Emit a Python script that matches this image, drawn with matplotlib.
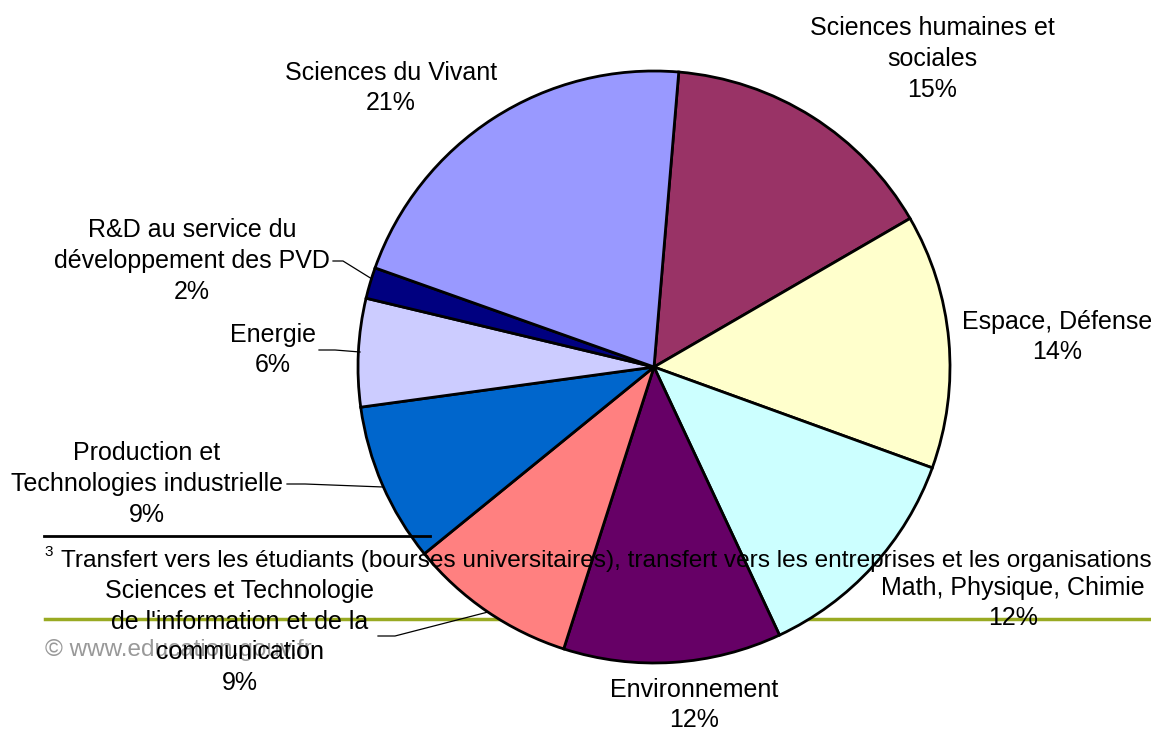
import numpy as np
import matplotlib.pyplot as plt

plt.rcParams['font.family'] = ['Liberation Sans', 'DejaVu Sans']

# shares (%), clockwise from the top
labels = ['Sciences humaines et\nsociales', 'Espace, Défense', 'Math, Physique, Chimie',
          'Environnement', 'Sciences et Technologie\nde l\'information et de la\ncommunication',
          'Production et\nTechnologies industrielle', 'Energie',
          'R&D au service du\ndéveloppement des PVD', 'Sciences du Vivant']
values = [15.3, 13.9, 12.5, 11.9, 9.2, 8.7, 5.9, 1.7, 20.9]
pct_text = ['15%', '14%', '12%', '12%', '9%', '9%', '6%', '2%', '21%']
colors = ['#993366', '#FFFFCC', '#CCFFFF', '#660066', '#FF8080',
          '#0066CC', '#CCCCFF', '#000080', '#9999FF']

# layout (pixel coords, y from top)
W, H = 1151, 729
cx, cy, r = 654, 367, 296
lab_pos = [(932, 59), (1057, 337), (1013, 603), (694, 705), (240, 637),
           (147, 484), (273, 350), (192, 261), (391, 88)]
leaders = {7: [(333, 261), (343, 261), (372, 279)],
           6: [(319, 350), (335, 350), (360, 352)],
           5: [(287, 484), (305, 484), (383, 487)],
           4: [(378, 636), (395, 636), (488, 612)]}

fig = plt.figure(figsize=(W / 100, H / 100), dpi=100)
ax = fig.add_axes([0, 0, 1, 1])

# slide decoration behind the pie
ax.plot([45, W], [H - 619, H - 619], color='#99AA22', lw=2.5, zorder=0)
ax.text(45, H - 650, '© www.education.gouv.fr', color='#999999', fontsize=17.5,
        ha='left', va='center', zorder=0)

ax.pie(values, colors=colors, startangle=85.2, counterclock=False,
       center=(cx, H - cy), radius=r,
       wedgeprops=dict(edgecolor='black', linewidth=2), frame=True)

for i, (lab, p) in enumerate(zip(labels, pct_text)):
    x, y = lab_pos[i]
    ax.text(x, H - y, lab + '\n' + p, ha='center', va='center', fontsize=18,
            linespacing=1.36, zorder=5)

for i, pts in leaders.items():
    xs = [p[0] for p in pts]
    ys = [H - p[1] for p in pts]
    ax.plot(xs, ys, color='black', lw=0.9, zorder=4)

# footnote overlay from the slide
ax.plot([44, 430], [H - 536, H - 536], color='black', lw=2, zorder=6)
ax.text(44, H - 552, '3', fontsize=11, ha='left', va='center', zorder=6)
ax.text(61, H - 561, 'Transfert vers les étudiants (bourses universitaires), transfert vers les '
        'entreprises et les organisations internationales', fontsize=17.6,
        ha='left', va='center', zorder=6, clip_on=True)

ax.set_xlim(0, W)
ax.set_ylim(0, H)
ax.set_aspect('equal')
ax.axis('off')

fig.savefig('out.png', dpi=100)
